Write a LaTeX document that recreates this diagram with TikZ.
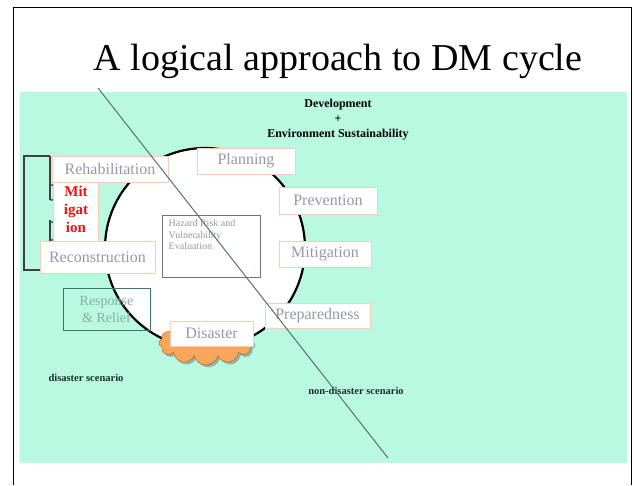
\documentclass[tikz,border=0pt]{standalone}
\usepackage{fontspec}
\setmainfont{Liberation Serif}
\usetikzlibrary{shapes.symbols,shadows}

\definecolor{mint}{RGB}{185,249,226}
\definecolor{peach}{RGB}{246,206,180}
\definecolor{stagetext}{RGB}{150,152,170}
\definecolor{reliefline}{RGB}{60,118,104}
\definecolor{relieftext}{RGB}{135,172,165}
\definecolor{blastorange}{RGB}{247,166,92}
\definecolor{cutline}{RGB}{85,115,105}
\definecolor{scenetext}{RGB}{25,50,35}
\definecolor{mitred}{RGB}{232,22,22}

\begin{document}
\begin{tikzpicture}[
    x=1pt, y=-1pt,
    stage/.style={draw=peach, fill=white, line width=0.8pt, inner sep=0pt, text=stagetext, font=\fontsize{16}{18}\selectfont},
    note/.style={font=\bfseries\fontsize{12}{15}\selectfont, align=center},
    scene/.style={font=\bfseries\fontsize{10.5}{12}\selectfont, text=scenetext},
    bracket/.style={line width=1.1pt, draw=black!75}
]
    \useasboundingbox (0,0) rectangle (634,485);
    \draw[line width=1pt] (13,485) -- (13,7) -- (631,7) -- (631,485);
    \fill[mint] (20,92) rectangle (627,463);

    \node[font=\fontsize{38}{44}\selectfont, anchor=base] (title) at (338,70) {A logical approach to DM cycle};
    \node[note] (goal) at (338,120) {Development\\+\\Environment Sustainability};

    % the cycle
    \node[circle, draw, line width=2.2pt, fill=white, minimum size=200pt, inner sep=0pt] (cycle) at (205,248) {};
    \node[cloud, cloud puffs=12, aspect=2.2, fill=blastorange, draw=orange!70!black, drop shadow={opacity=0.6}, minimum width=94pt, minimum height=44pt, inner sep=0pt] (blast) at (206,343) {};

    \draw[bracket] (50,156) -- (24,156) -- (24,270) -- (40,270);
    \draw[bracket] (50,156) -- (50,200);
    \draw[bracket, rounded corners=1.5pt] (50,185) -- (54,185) -- (54,200) -- (50,200);
    \draw[bracket] (50,220) -- (50,250);
    \draw[bracket, rounded corners=1.5pt] (50,222) -- (54,222) -- (54,240) -- (50,240);

    \node[stage, minimum width=45pt, minimum height=64pt, text=mitred, font=\bfseries\fontsize{15}{18}\selectfont, align=center] (mitbox) at (76,209) {Mit\\igat\\ion};
    \node[draw=reliefline, line width=1pt, minimum width=87pt, minimum height=42pt, inner sep=0pt, text=relieftext, font=\fontsize{14}{17}\selectfont, align=center] (relief) at (106.5,309) {Response\\\& Relief};

    \node[stage, minimum width=116pt, minimum height=26pt] (rehab) at (110,169) {Rehabilitation};
    \node[stage, minimum width=98pt, minimum height=26pt] (plan) at (246,161) {Planning};
    \node[stage, minimum width=98pt, minimum height=27pt] (prev) at (328,200.5) {Prevention};
    \node[stage, minimum width=92pt, minimum height=26pt] (mitig) at (325,254) {Mitigation};
    \node[stage, minimum width=105pt, minimum height=25pt] (prep) at (317.5,315.5) {Preparedness};
    \node[stage, minimum width=83pt, minimum height=25pt] (disaster) at (211.5,333.5) {Disaster};
    \node[stage, minimum width=115pt, minimum height=32pt] (recon) at (97.5,257) {Reconstruction};

    \node[draw=black!55, line width=1pt, fill=white, minimum width=98pt, minimum height=62pt, inner sep=0pt] (evalbox) at (211,246) {};
    \node[anchor=north west, inner sep=0pt, text=black!40, font=\fontsize{10}{11.5}\selectfont, align=left] (evaltext) at ([xshift=7pt,yshift=-5pt]evalbox.north west) {Hazard Risk and\\Vulnerability\\Evaluation};

    \node[scene] (dscen) at (86,378) {disaster scenario};
    \node[scene] (ndscen) at (356,391) {non-disaster scenario};

    \coordinate (cutA) at (98,88);
    \coordinate (cutB) at (388,458);
    \draw[cutline, line width=1pt] (cutA) -- (cutB);
\end{tikzpicture}
\end{document}
